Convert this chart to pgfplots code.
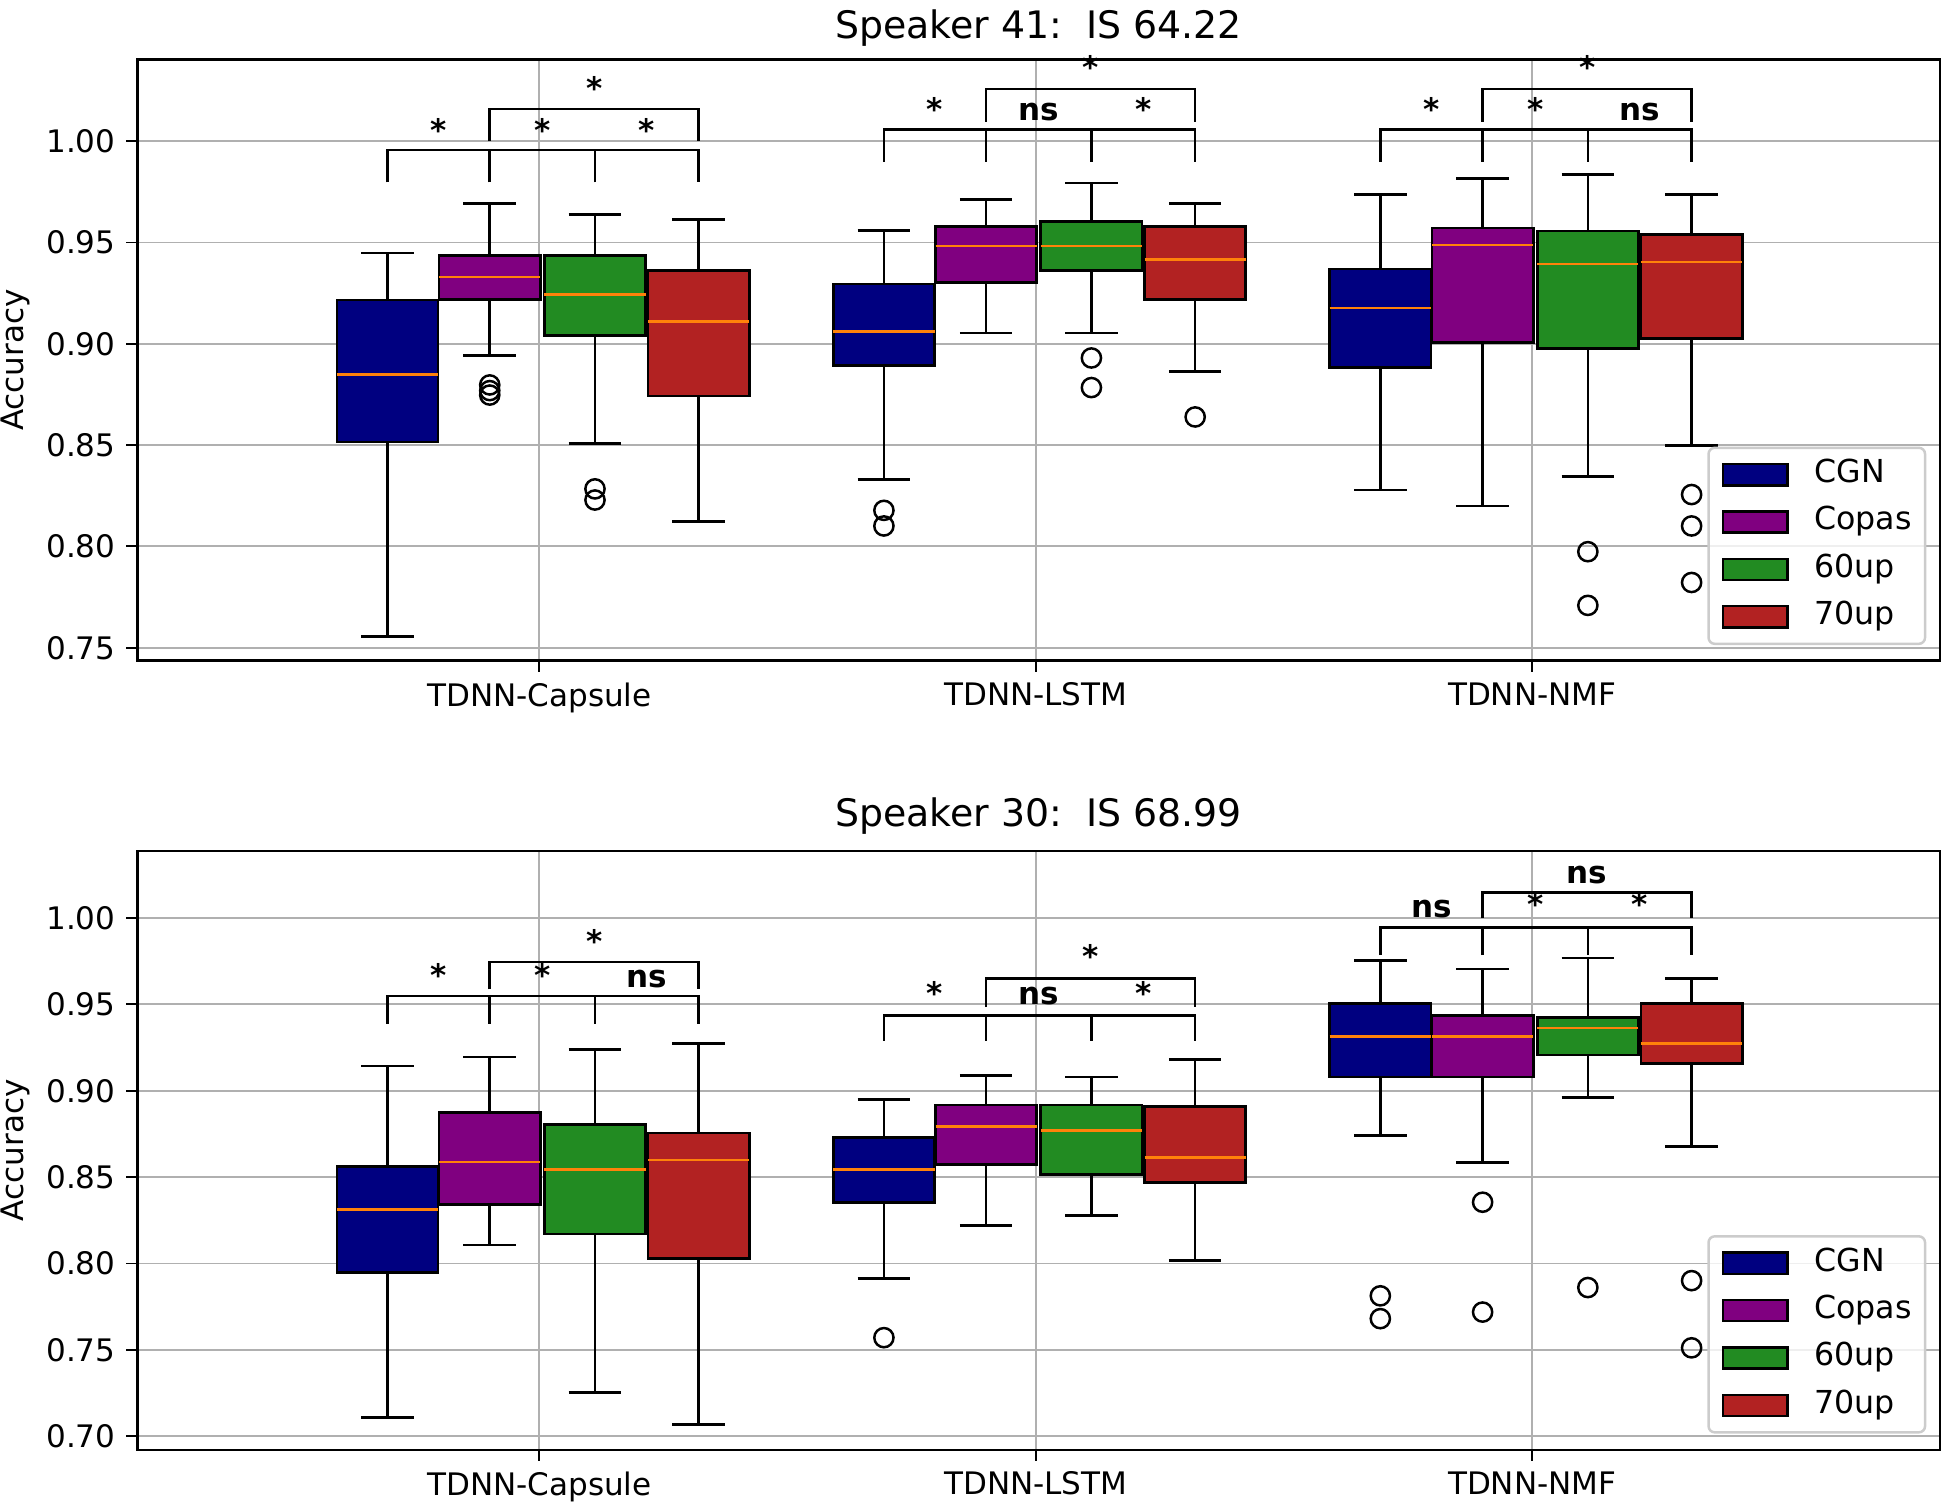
\documentclass[border=0pt]{standalone}
\usepackage{pgfplots}
\pgfplotsset{compat=1.18}
\usepgfplotslibrary{statistics}
\usepackage{fontspec}
\setmainfont{DejaVu Sans}
\frenchspacing
\definecolor{cgn}{RGB}{0,0,128}
\definecolor{copas}{RGB}{128,0,128}
\definecolor{sixty}{RGB}{34,139,34}
\definecolor{seventy}{RGB}{178,34,34}
\definecolor{med}{RGB}{255,130,10}
\definecolor{gridc}{RGB}{176,176,176}
\definecolor{legc}{RGB}{204,204,204}

\newcommand{\sstar}{\raisebox{0pt}[0.76em][-0.42em]{*}}
\tikzset{brk/.style={black, line width=0.85pt, line cap=butt}}

% c, leg bottom, lower horizontal, upper leg bottom, upper horizontal
\newcommand{\sigbr}[5]{%
 \pgfplotsextra{%
  \pgfmathsetmacro{\xa}{#1-0.306}\pgfmathsetmacro{\xb}{#1-0.100}%
  \pgfmathsetmacro{\xc}{#1+0.112}\pgfmathsetmacro{\xd}{#1+0.321}%
  \draw[brk] (axis cs:\xa,#2) -- (axis cs:\xa,#3) -- (axis cs:\xd,#3) -- (axis cs:\xd,#2);
  \draw[brk] (axis cs:\xb,#2) -- (axis cs:\xb,#3);
  \draw[brk] (axis cs:\xc,#2) -- (axis cs:\xc,#3);
  \draw[brk] (axis cs:\xb,#4) -- (axis cs:\xb,#5) -- (axis cs:\xd,#5) -- (axis cs:\xd,#4);
 }}
% c, y1,t1, y2,t2, y3,t3, ytop,ttop
\newcommand{\siglab}[9]{%
 \pgfplotsextra{%
  \pgfmathsetmacro{\xa}{#1-0.203}\pgfmathsetmacro{\xb}{#1+0.006}%
  \pgfmathsetmacro{\xc}{#1+0.2165}\pgfmathsetmacro{\xd}{#1+0.1105}%
  \node[siglabel] at (axis cs:\xa,#2) {#3};
  \node[siglabel] at (axis cs:\xb,#4) {#5};
  \node[siglabel] at (axis cs:\xc,#6) {#7};
  \node[siglabel] at (axis cs:\xd,#8) {#9};
 }}
\tikzset{siglabel/.style={font=\bfseries\fontsize{10}{12}\selectfont, inner sep=0pt, anchor=center}}

\pgfplotsset{
 every axis title shift=0pt,
 panel/.style={
  scale only axis, width=20.418cm,
  xmin=-0.8095, xmax=2.821,
  xtick={0,1,2}, xticklabels={TDNN-Capsule,TDNN-LSTM,TDNN-NMF},
  xtick pos=bottom, ytick pos=left,
  grid=major, grid style={gridc, line width=0.6pt},
  tick align=outside, major tick length=0.127cm,
  tick style={black, line width=0.6pt},
  axis line style={black, line width=0.8pt},
  /pgf/number format/assume math mode=true,
  yticklabel style={/pgf/number format/fixed, /pgf/number format/fixed zerofill, /pgf/number format/precision=2},
  ticklabel style={font=\fontsize{10}{12}\selectfont},
  ylabel={Accuracy},
  ylabel style={at={(axis description cs:-0.0676,0.5)}, anchor=center, font=\fontsize{10}{12}\selectfont},
  title style={at={(axis description cs:0.5,1)}, anchor=base, font=\fontsize{12.2}{14}\selectfont},
  clip=false,
  boxplot/draw direction=y,
  boxplot/box extend=0.204,
  boxplot/whisker extend=0.106,
  boxplot/every median/.style={draw=med, line width=0.85pt},
  boxplot/every whisker/.style={draw=black, line width=0.85pt},
  legend image code/.code={\draw[#1, draw=black, line width=0.8pt, sharp corners, fill opacity=1, draw opacity=1] (0cm,-0.12cm) rectangle (0.731cm,0.12cm);},
  legend cell align=left,
  legend style={anchor=south east, draw=legc, line width=0.8pt, rounded corners=2pt,
    fill=white, fill opacity=0.8, draw opacity=1, text opacity=1,
    font=\fontsize{10.2}{12}\selectfont, inner xsep=0.15cm, inner ysep=0.13cm,
    row sep=0.185cm, nodes={inner sep=0pt, text height=0.75em, text depth=0.25em},
    /tikz/every odd column/.append style={column sep=0.29cm}},
 },
 bx/.style 2 args={boxplot prepared={#2}, boxplot/every box/.style={draw=black, line width=0.85pt, fill=#1},
   draw=black, line width=0.85pt, mark=o, mark size=3.1pt,
   mark options={solid, draw=black, fill=none, line width=0.8pt}, forget plot},
}
\newcommand{\legendentries}{%
 \addlegendimage{fill=cgn}\addlegendentry{CGN}
 \addlegendimage{fill=copas}\addlegendentry{Copas}
 \addlegendimage{fill=sixty}\addlegendentry{60up}
 \addlegendimage{fill=seventy}\addlegendentry{70up}}

\begin{document}
\begin{tikzpicture}
\path[use as bounding box] (-1.558,0.672) rectangle (20.488,-16.40);
% ---------------- Speaker 41 ----------------
\begin{axis}[panel, at={(0,0)}, anchor=north west, height=6.813cm,
  ymin=0.7436, ymax=1.0404, ytick={0.75,0.80,0.85,0.90,0.95,1.00},
  title={Speaker 41:\ \ IS 64.22}, title style={yshift=0.239cm},
  legend style={at={(axis description cs:0.9925,0.026)}}]
\legendentries
% TDNN-Capsule
\addplot[bx={cgn}{draw position=-0.306, lower whisker=0.7557, lower quartile=0.8515, median=0.8850, upper quartile=0.9216, upper whisker=0.9449}] coordinates {};
\addplot[bx={copas}{draw position=-0.100, lower whisker=0.8941, lower quartile=0.9220, median=0.9330, upper quartile=0.9436, upper whisker=0.9692}] table[row sep=\\, y index=0] {data\\ 0.8797\\ 0.8769\\ 0.8747\\};
\addplot[bx={sixty}{draw position=0.112, lower whisker=0.8509, lower quartile=0.9040, median=0.9242, upper quartile=0.9436, upper whisker=0.9637}] table[row sep=\\, y index=0] {data\\ 0.8284\\ 0.8229\\};
\addplot[bx={seventy}{draw position=0.321, lower whisker=0.8123, lower quartile=0.8742, median=0.9110, upper quartile=0.9361, upper whisker=0.9615}] coordinates {};
% TDNN-LSTM
\addplot[bx={cgn}{draw position=0.694, lower whisker=0.8330, lower quartile=0.8894, median=0.9062, upper quartile=0.9295, upper whisker=0.9560}] table[row sep=\\, y index=0] {data\\ 0.8178\\ 0.8101\\};
\addplot[bx={copas}{draw position=0.900, lower whisker=0.9053, lower quartile=0.9304, median=0.9482, upper quartile=0.9579, upper whisker=0.9712}] coordinates {};
\addplot[bx={sixty}{draw position=1.112, lower whisker=0.9053, lower quartile=0.9361, median=0.9482, upper quartile=0.9604, upper whisker=0.9793}] table[row sep=\\, y index=0] {data\\ 0.8930\\ 0.8784\\};
\addplot[bx={seventy}{draw position=1.321, lower whisker=0.8863, lower quartile=0.9218, median=0.9416, upper quartile=0.9579, upper whisker=0.9692}] table[row sep=\\, y index=0] {data\\ 0.8639\\};
% TDNN-NMF
\addplot[bx={cgn}{draw position=1.694, lower whisker=0.8278, lower quartile=0.8883, median=0.9176, upper quartile=0.9370, upper whisker=0.9736}] coordinates {};
\addplot[bx={copas}{draw position=1.900, lower whisker=0.8200, lower quartile=0.9007, median=0.9487, upper quartile=0.9571, upper whisker=0.9815}] coordinates {};
\addplot[bx={sixty}{draw position=2.112, lower whisker=0.8344, lower quartile=0.8976, median=0.9394, upper quartile=0.9557, upper whisker=0.9835}] table[row sep=\\, y index=0] {data\\ 0.7974\\ 0.7709\\};
\addplot[bx={seventy}{draw position=2.321, lower whisker=0.8498, lower quartile=0.9026, median=0.9403, upper quartile=0.9540, upper whisker=0.9736}] table[row sep=\\, y index=0] {data\\ 0.8256\\ 0.8101\\ 0.7822\\};
\sigbr{0}{0.9797}{0.9956}{1.0000}{1.0159}
\sigbr{1}{0.9899}{1.0057}{1.0097}{1.0258}
\sigbr{2}{0.9899}{1.0057}{1.0097}{1.0258}
\siglab{0}{1.0057}{\sstar}{1.0057}{\sstar}{1.0057}{\sstar}{1.0262}{\sstar}
\siglab{1}{1.0161}{\sstar}{1.0145}{ns}{1.0161}{\sstar}{1.0366}{\sstar}
\siglab{2}{1.0161}{\sstar}{1.0161}{\sstar}{1.0145}{ns}{1.0366}{\sstar}
\end{axis}
% ---------------- Speaker 30 ----------------
\begin{axis}[panel, at={(0,-8.967cm)}, anchor=north west, height=6.785cm,
  ymin=0.6922, ymax=1.0389, ytick={0.70,0.75,0.80,0.85,0.90,0.95,1.00},
  title={Speaker 30:\ \ IS 68.99}, title style={yshift=0.278cm},
  legend style={at={(axis description cs:0.9925,0.027)}}]
\legendentries
% TDNN-Capsule
\addplot[bx={cgn}{draw position=-0.306, lower whisker=0.7107, lower quartile=0.7947, median=0.8312, upper quartile=0.8561, upper whisker=0.9144}] coordinates {};
\addplot[bx={copas}{draw position=-0.100, lower whisker=0.8108, lower quartile=0.8341, median=0.8588, upper quartile=0.8873, upper whisker=0.9195}] coordinates {};
\addplot[bx={sixty}{draw position=0.112, lower whisker=0.7252, lower quartile=0.8172, median=0.8545, upper quartile=0.8806, upper whisker=0.9238}] coordinates {};
\addplot[bx={seventy}{draw position=0.321, lower whisker=0.7069, lower quartile=0.8030, median=0.8599, upper quartile=0.8755, upper whisker=0.9275}] coordinates {};
% TDNN-LSTM
\addplot[bx={cgn}{draw position=0.694, lower whisker=0.7912, lower quartile=0.8352, median=0.8545, upper quartile=0.8731, upper whisker=0.8951}] table[row sep=\\, y index=0] {data\\ 0.7571\\};
\addplot[bx={copas}{draw position=0.900, lower whisker=0.8221, lower quartile=0.8572, median=0.8795, upper quartile=0.8918, upper whisker=0.9090}] coordinates {};
\addplot[bx={sixty}{draw position=1.112, lower whisker=0.8277, lower quartile=0.8516, median=0.8771, upper quartile=0.8918, upper whisker=0.9079}] coordinates {};
\addplot[bx={seventy}{draw position=1.321, lower whisker=0.8017, lower quartile=0.8470, median=0.8612, upper quartile=0.8908, upper whisker=0.9181}] coordinates {};
% TDNN-NMF
\addplot[bx={cgn}{draw position=1.694, lower whisker=0.8741, lower quartile=0.9079, median=0.9313, upper quartile=0.9506, upper whisker=0.9756}] table[row sep=\\, y index=0] {data\\ 0.7813\\ 0.7681\\};
\addplot[bx={copas}{draw position=1.900, lower whisker=0.8586, lower quartile=0.9079, median=0.9313, upper quartile=0.9436, upper whisker=0.9705}] table[row sep=\\, y index=0] {data\\ 0.8355\\ 0.7719\\};
\addplot[bx={sixty}{draw position=2.112, lower whisker=0.8961, lower quartile=0.9208, median=0.9364, upper quartile=0.9426, upper whisker=0.9769}] table[row sep=\\, y index=0] {data\\ 0.7861\\};
\addplot[bx={seventy}{draw position=2.321, lower whisker=0.8677, lower quartile=0.9157, median=0.9273, upper quartile=0.9506, upper whisker=0.9651}] table[row sep=\\, y index=0] {data\\ 0.7901\\ 0.7512\\};
\sigbr{0}{0.9388}{0.9549}{0.9587}{0.9745}
\sigbr{1}{0.9291}{0.9436}{0.9485}{0.9651}
\sigbr{2}{0.9785}{0.9946}{1.0000}{1.0148}
\siglab{0}{0.9673}{\sstar}{0.9673}{\sstar}{0.9646}{ns}{0.9869}{\sstar}
\siglab{1}{0.9565}{\sstar}{0.9546}{ns}{0.9565}{\sstar}{0.9780}{\sstar}
\siglab{2}{1.0054}{ns}{1.0081}{\sstar}{1.0081}{\sstar}{1.0250}{ns}
\end{axis}
\end{tikzpicture}
\end{document}
